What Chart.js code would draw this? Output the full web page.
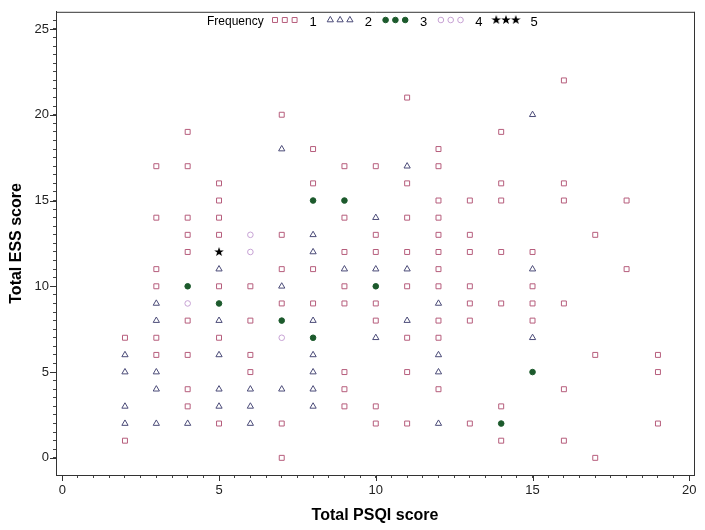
<!DOCTYPE html>
<html>
<head>
<meta charset="utf-8">
<script src="https://cdn.jsdelivr.net/npm/chart.js@4.4.0/dist/chart.umd.min.js"></script>
<style>
  html, body { margin:0; padding:0; background:#fff; }
  #wrap { width:705px; height:530px; }
</style>
</head>
<body>
<div id="wrap"><canvas id="chart" width="705" height="530"></canvas></div>
<script>
// ── DATA ── [PSQI score, ESS score] pairs, grouped by frequency
const freq1 = [
  [2,1],[2,7],
  [3,6],[3,7],[3,10],[3,11],[3,14],[3,17],
  [4,3],[4,4],[4,6],[4,8],[4,12],[4,13],[4,14],[4,17],[4,19],
  [5,2],[5,7],[5,10],[5,13],[5,14],[5,15],[5,16],
  [6,5],[6,6],[6,8],[6,10],
  [7,0],[7,2],[7,9],[7,11],[7,13],[7,20],
  [8,9],[8,11],[8,16],[8,18],
  [9,3],[9,4],[9,5],[9,9],[9,10],[9,12],[9,14],[9,17],
  [10,2],[10,3],[10,8],[10,9],[10,12],[10,13],[10,17],
  [11,2],[11,5],[11,7],[11,10],[11,12],[11,14],[11,16],[11,21],
  [12,4],[12,7],[12,8],[12,10],[12,11],[12,12],[12,13],[12,14],[12,15],[12,17],[12,18],
  [13,2],[13,8],[13,9],[13,10],[13,12],[13,13],[13,15],
  [14,1],[14,3],[14,9],[14,12],[14,15],[14,16],[14,19],
  [15,8],[15,9],[15,10],[15,12],
  [16,1],[16,4],[16,9],[16,15],[16,16],[16,22],
  [17,0],[17,6],[17,13],
  [18,11],[18,15],
  [19,2],[19,5],[19,6]
];
const freq2 = [
  [2,2],[2,3],[2,5],[2,6],
  [3,2],[3,4],[3,5],[3,8],[3,9],
  [4,2],
  [5,3],[5,4],[5,6],[5,8],[5,11],
  [6,2],[6,3],[6,4],
  [7,4],[7,10],[7,18],
  [8,3],[8,4],[8,5],[8,6],[8,8],[8,12],[8,13],
  [9,11],
  [10,7],[10,11],[10,14],
  [11,8],[11,11],[11,17],
  [12,2],[12,5],[12,6],[12,9],
  [15,7],[15,11],[15,20]
];
const freq3 = [[4,10],[5,9],[7,8],[8,7],[8,15],[9,15],[10,10],[14,2],[15,5]];
const freq4 = [[4,9],[6,12],[6,13],[7,7]];
const freq5 = [[5,12]];

const legendLabels = ['1','2','3','4','5'];
const xLabelTicks = [0,5,10,15,20];
const yLabelTicks = [0,5,10,15,20,25];

const FONT = "'Liberation Sans', Arial, sans-serif";

// ── STAR MARKER ──
function makeStar(size, color) {
  const c = document.createElement('canvas');
  c.width = c.height = size;
  const g = c.getContext('2d');
  g.fillStyle = color;
  g.beginPath();
  for (let i = 0; i < 10; i++) {
    const r = i % 2 ? size * 0.2 : size * 0.5;
    const a = -Math.PI / 2 + i * Math.PI / 5;
    g.lineTo(size / 2 + r * Math.cos(a), size / 2 + r * Math.sin(a));
  }
  g.closePath();
  g.fill();
  return c;
}
const star = makeStar(10, '#000');

const toPts = arr => arr.map(([x, y]) => ({ x, y }));

const datasets = [
  { label:'1', data:toPts(freq1), pointStyle:'rect',     pointRadius:3.5, borderColor:'#b65d7c', backgroundColor:'rgba(0,0,0,0)', borderWidth:1 },
  { label:'2', data:toPts(freq2), pointStyle:'triangle', pointRadius:3.6, borderColor:'#4b4b78', backgroundColor:'rgba(0,0,0,0)', borderWidth:1 },
  { label:'3', data:toPts(freq3), pointStyle:'circle',   pointRadius:2.8, borderColor:'#1c5a2c', backgroundColor:'#1c5a2c', borderWidth:1 },
  { label:'4', data:toPts(freq4), pointStyle:'circle',   pointRadius:2.8, borderColor:'#c7a2d4', backgroundColor:'rgba(0,0,0,0)', borderWidth:1 },
  { label:'5', data:toPts(freq5), pointStyle:star,       pointRadius:5,   borderColor:'#000',    backgroundColor:'#000', borderWidth:1 },
];

function halfSteps(from, to) {
  const t = [];
  for (let v = from; v <= to + 1e-9; v += 0.5) t.push({ value: v });
  return t;
}

// ── FRAME, MAJOR TICKS, LEGEND ──
const framePlugin = {
  id: 'frame',
  afterDraw(chart) {
    const { ctx, chartArea: a, scales } = chart;
    ctx.save();
    ctx.strokeStyle = '#333';
    ctx.lineWidth = 1;
    ctx.beginPath();
    ctx.moveTo(a.left, a.top + 0.5); ctx.lineTo(a.right + 0.5, a.top + 0.5);
    ctx.moveTo(a.right + 0.5, a.top); ctx.lineTo(a.right + 0.5, a.bottom);
    // longer major ticks
    xLabelTicks.forEach(v => {
      const px = Math.round(scales.x.getPixelForValue(v)) + 0.5;
      ctx.moveTo(px, a.bottom); ctx.lineTo(px, a.bottom + 6);
    });
    yLabelTicks.forEach(v => {
      const py = Math.round(scales.y.getPixelForValue(v)) + 0.5;
      ctx.moveTo(a.left - 6, py); ctx.lineTo(a.left, py);
    });
    ctx.stroke();

    // legend
    ctx.fillStyle = '#000';
    ctx.font = `12px ${FONT}`;
    ctx.textBaseline = 'middle';
    ctx.textAlign = 'left';
    ctx.fillText('Frequency', 207, 22);
    chart.data.datasets.forEach((ds, i) => {
      const x0 = 275 + i * 55.3;
      for (let k = 0; k < 3; k++) {
        const mx = x0 + k * 9.8, my = 20;
        if (ds.pointStyle instanceof HTMLCanvasElement) {
          ctx.drawImage(ds.pointStyle, mx - ds.pointStyle.width / 2, my - ds.pointStyle.height / 2);
        } else {
          ctx.fillStyle = ds.backgroundColor;
          ctx.strokeStyle = ds.borderColor;
          ctx.lineWidth = 1;
          Chart.helpers.drawPoint(ctx, { pointStyle: ds.pointStyle, radius: ds.pointRadius, rotation: 0, borderWidth: 1 }, mx, my);
        }
      }
      ctx.fillStyle = '#000';
      ctx.font = `13px ${FONT}`;
      ctx.textAlign = 'center';
      ctx.fillText(legendLabels[i], x0 + 38, 22);
    });
    ctx.restore();
  }
};

new Chart(document.getElementById('chart'), {
  type: 'scatter',
  data: { datasets },
  options: {
    responsive: false,
    animation: false,
    layout: { padding: { top: 8, right: 11, left: 0, bottom: 0 } },
    plugins: { legend: { display: false }, tooltip: { enabled: false } },
    scales: {
      x: {
        type: 'linear', min: -0.2, max: 20.15,
        afterBuildTicks: s => { s.ticks = halfSteps(0, 20); },
        afterFit: s => { s.height = 55; },
        grid: { drawOnChartArea: false, drawTicks: true, tickLength: 3, tickColor: '#444', tickWidth: 1 },
        border: { display: true, color: '#333', width: 1 },
        ticks: {
          autoSkip: false, maxRotation: 0, padding: 5, color: '#222',
          font: { family: FONT, size: 13 },
          callback: v => xLabelTicks.includes(v) ? String(v) : ''
        },
        title: { display: true, text: 'Total PSQI score', color: '#000', font: { family: FONT, size: 16, weight: 'bold' }, padding: { top: 0, bottom: 5 } }
      },
      y: {
        type: 'linear', min: -1, max: 26,
        afterBuildTicks: s => { s.ticks = halfSteps(0, 25.5); },
        afterFit: s => { s.width = 56; },
        grid: { drawOnChartArea: false, drawTicks: true, tickLength: 3, tickColor: '#444', tickWidth: 1 },
        border: { display: true, color: '#333', width: 1 },
        ticks: {
          autoSkip: false, padding: 4, color: '#222',
          font: { family: FONT, size: 13 },
          callback: v => yLabelTicks.includes(v) ? String(v) : ''
        },
        title: { display: true, text: 'Total ESS score', color: '#000', font: { family: FONT, size: 16, weight: 'bold' }, padding: { top: 7, bottom: 0 } }
      }
    }
  },
  plugins: [framePlugin]
});
</script>
</body>
</html>
